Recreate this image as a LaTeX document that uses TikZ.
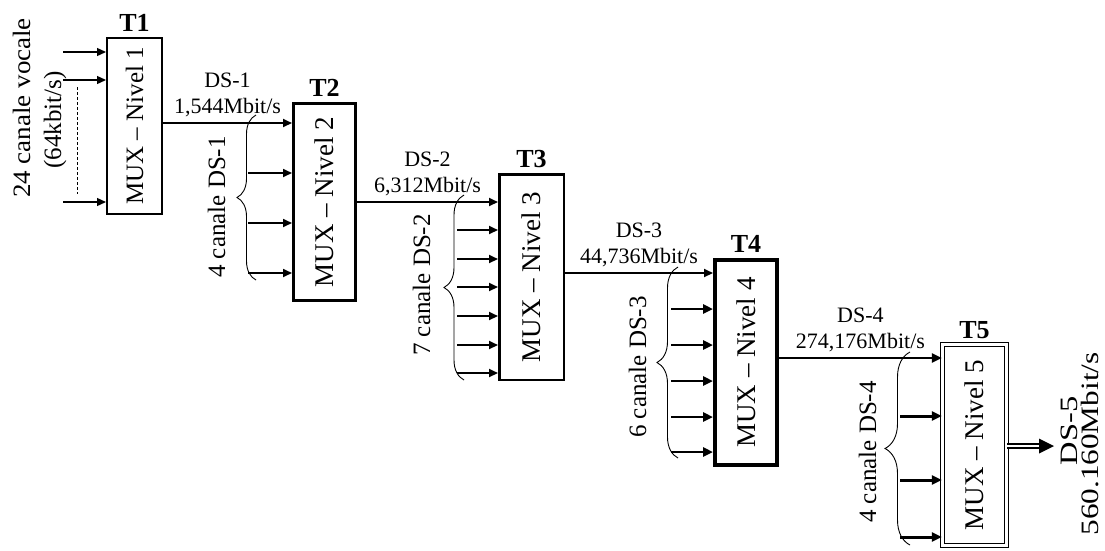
\documentclass[tikz,border=0pt]{standalone}
\usepackage{fontspec}
\setmainfont{Liberation Serif}
\usetikzlibrary{arrows.meta,decorations.pathreplacing}
\begin{document}
\begin{tikzpicture}[x=1pt,y=-1pt,
  mux/.style={draw, inner sep=0pt, font=\fontsize{27}{30}\selectfont},
  tlab/.style={font=\bfseries\fontsize{26}{28}\selectfont, anchor=base, inner sep=0pt, yshift=5.5pt},
  rate/.style={font=\fontsize{22}{24}\selectfont, anchor=base, inner sep=0pt},
  side/.style={font=\fontsize{25}{28}\selectfont, rotate=90, anchor=base, inner sep=0pt},
  outlab/.style={font=\fontsize{25}{28}\selectfont, rotate=90, anchor=base, inner sep=0pt},
  arr/.style={-{Triangle[length=9pt,width=8pt]}},
  arrb/.style={-{Triangle[length=10pt,width=9pt]}},
  brc/.style={decorate, decoration={brace, amplitude=#1}, line width=0.9pt}]
\useasboundingbox (0,0) rectangle (1105,550);

% boxes
\node[mux, line width=2pt, minimum width=55pt, minimum height=176pt] (t1) at (134.5,126)
  {\rotatebox{90}{\fontsize{25}{28}\selectfont MUX – Nivel 1}};
\node[mux, line width=3pt, minimum width=62pt, minimum height=197pt] (t2) at (324.5,202)
  {\rotatebox{90}{MUX – Nivel 2}};
\node[mux, line width=2.5pt, minimum width=64.5pt, minimum height=205.5pt] (t3) at (531.5,277)
  {\rotatebox{90}{MUX – Nivel 3}};
\node[mux, line width=4pt, minimum width=62pt, minimum height=205pt] (t4) at (746,362.5)
  {\rotatebox{90}{MUX – Nivel 4}};
\node[mux, double, double distance=2.5pt, line width=1.2pt, minimum width=64pt, minimum height=201pt] (t5) at (974.5,445)
  {\rotatebox{90}{MUX – Nivel 5}};

% box titles
\node[tlab] (n1) at (t1.north) {T1};
\node[tlab] (n2) at (t2.north) {T2};
\node[tlab] (n3) at (t3.north) {T3};
\node[tlab] (n4) at (t4.north) {T4};
\node[tlab] (n5) at (t5.north) {T5};

% level lines
\coordinate (l1) at (0,123);
\coordinate (l2) at (0,202);
\coordinate (l3) at (0,273);
\coordinate (l4) at (0,358);

\draw[arr, line width=2pt] (t1.east |- l1) --
  node[rate, yshift=10pt] (r1) {1,544Mbit/s}
  node[rate, yshift=36pt] (d1) {DS-1} (t2.west |- l1);
\draw[arr, line width=2pt] (t2.east |- l2) --
  node[rate, yshift=10pt] (r2) {6,312Mbit/s}
  node[rate, yshift=36pt] (d2) {DS-2} (t3.west |- l2);
\draw[arr, line width=2pt] (t3.east |- l3) --
  node[rate, yshift=10pt] (r3) {44,736Mbit/s}
  node[rate, yshift=36pt] (d3) {DS-3} (t4.west |- l3);
\draw[arrb, line width=2.5pt] (t4.east |- l4) --
  node[rate, yshift=10pt] (r4) {274,176Mbit/s}
  node[rate, yshift=36pt] (d4) {DS-4} (t5.west |- l4);

% inputs T1
\foreach \y [count=\i] in {52,80,202} {
  \coordinate (a\i) at (63,\y);
  \draw[arr, line width=1.3pt] (a\i) -- (a\i -| t1.west);
}
\draw[dashed, line width=0.8pt, dash pattern=on 3pt off 2pt] (77,87) -- (77,194);

% inputs T2
\foreach \y [count=\i] in {173,223,273} {
  \coordinate (b\i) at (248,\y);
  \draw[arr, line width=1.7pt] (b\i) -- (b\i -| t2.west);
}
% inputs T3
\foreach \y [count=\i] in {230,259,287,316,345,373} {
  \coordinate (c\i) at (457,\y);
  \draw[arr, line width=2pt] (c\i) -- (c\i -| t3.west);
}
% inputs T4
\foreach \y [count=\i] in {309,345,381,417,452} {
  \coordinate (e\i) at (671,\y);
  \draw[arrb, line width=2.5pt] (e\i) -- (e\i -| t4.west);
}
% inputs T5
\foreach \y [count=\i] in {416,480,537} {
  \coordinate (f\i) at (900,\y);
  \draw[arrb, line width=3pt] (f\i) -- (f\i -| t5.west);
}

% braces
\draw[brc=19] (256,280) -- (256,115);
\draw[brc=20] (464,380) -- (464,195);
\draw[brc=21] (678,458) -- (678,267);
\draw[brc=25] (910,545) -- (910,352);

% side labels
\node[side] (s0) at (30,108) {\scalebox{1.08}[1]{24 canale vocale}};
\node[side] (s0b) at (61,120) {(64kbit/s)};
\node[side] (s1) at (225,207) {4 canale DS-1};
\node[side] (s2) at (430,285) {7 canale DS-2};
\node[side] (s3) at (646,367) {6 canale DS-3};
\node[side] (s4) at (876,452) {4 canale DS-4};

% output
\coordinate (o5) at (1054,446);
\draw[double, double distance=2.5pt, line width=1.3pt] (t5.east |- o5) -- ([xshift=-12pt]o5);
\fill (o5) -- ++(-15,-7.5) -- ++(0,15) -- cycle;
\node[outlab] (ds5) at (1077,431) {\scalebox{1.3}[1]{DS-5}};
\node[outlab] (r5) at (1098,444) {\scalebox{1.25}[1]{560.160Mbit/s}};
\end{tikzpicture}
\end{document}
